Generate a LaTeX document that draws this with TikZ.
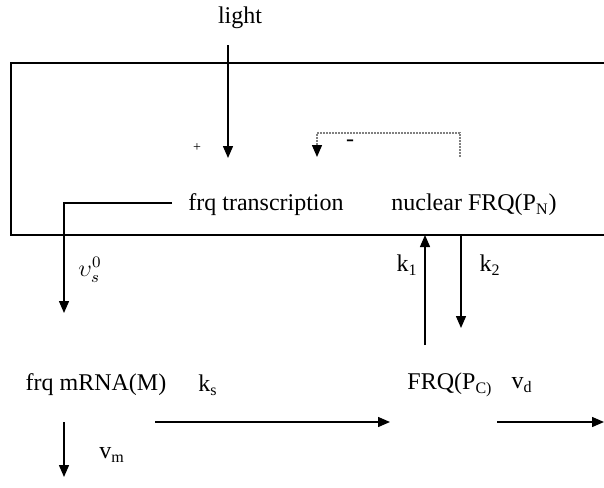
\documentclass[tikz,border=0pt]{standalone}
\usepackage{fontspec}
\setmainfont{Liberation Serif}
\usetikzlibrary{arrows.meta}

\begin{document}
\begin{tikzpicture}[x=0.5pt,y=-0.5pt,line width=0.7pt,
  arr/.style={-{Triangle[length=6pt,width=5pt,color=black]}},
  lbl/.style={inner sep=0pt,font=\fontsize{12}{14}\selectfont}]
\useasboundingbox (0,0) rectangle (604,487);
\draw (604,63) -- (11,63) -- (11,235) -- (604,235);

\node[lbl] (light) at (240,18) {light};
\node[lbl] (trans) at (266,205) {frq transcription};
\node[lbl] (nuc) at (474,205) {nuclear FRQ(P\textsubscript{N})};
\node[lbl] (mrna) at (96,385) {frq mRNA(M)};
\node[lbl] (frqc) at (450,385) {FRQ(P\textsubscript{C)}};
\node[lbl,font=\scriptsize] (plus) at (197,148) {+};
\node[lbl] (minus) at (350,143) {-};
\node[lbl] (vs) at (90,270) {$\upsilon_s^0$};
\node[lbl] (ks) at (208,385) {k\textsubscript{s}};
\node[lbl] (vd) at (522,385) {v\textsubscript{d}};
\node[lbl] (vm) at (112,455) {v\textsubscript{m}};
\node[lbl] (k1) at (407,265) {k\textsubscript{1}};
\node[lbl] (k2) at (490,265) {k\textsubscript{2}};

\coordinate (lighttop) at (228,45);
\coordinate (lightend) at (228,158);
\coordinate (repfrom) at (460,157);
\coordinate (repto) at (317,157);
\coordinate (transout) at (172,203);
\coordinate (mrnain) at (64,313);
\coordinate (ksfrom) at (155,422);
\coordinate (ksto) at (390,422);
\coordinate (vdfrom) at (497,422);
\coordinate (vdto) at (604,422);
\coordinate (vmfrom) at (64,422);
\coordinate (vmto) at (64,477);
\coordinate (k1from) at (425,345);
\coordinate (k1to) at (425,235);
\coordinate (k2from) at (461,235);
\coordinate (k2to) at (461,328);

\draw[arr] (lighttop) -- (lightend);
\draw[arr,gray,dash pattern=on 0.8pt off 0.7pt] (repfrom) -- (460,133) -| (repto);
\draw[arr] (transout) -| (mrnain);
\draw[arr] (ksfrom) -- (ksto);
\draw[arr] (vdfrom) -- (vdto);
\draw[arr] (vmfrom) -- (vmto);
\draw[arr] (k1from) -- (k1to);
\draw[arr] (k2from) -- (k2to);
\end{tikzpicture}
\end{document}
